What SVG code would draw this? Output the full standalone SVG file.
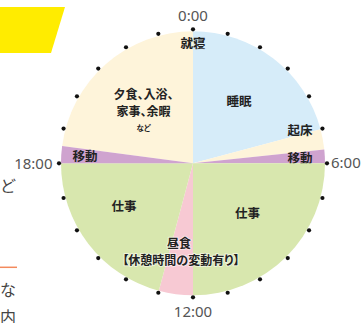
<svg xmlns="http://www.w3.org/2000/svg" width="362" height="323" viewBox="0 0 362 323">
  <style>
    .lbl { font-family: "Noto Sans CJK JP", "Noto Sans", sans-serif; font-weight: 700; fill: #222; text-anchor: middle; font-feature-settings: "palt"; }
    .time { font-family: "Noto Sans", "Liberation Sans", sans-serif; font-size: 15px; fill: #555; }
    .side { font-family: "Noto Sans CJK JP", sans-serif; font-size: 16px; fill: #444; }
    .halo { paint-order: stroke; stroke: #ffffff; stroke-opacity: 0.55; stroke-width: 2; stroke-linejoin: round; }
    .sleep { fill: #d6ecf9; }
    .cream { fill: #fef4da; }
    .move { fill: #cfa3cf; }
    .work { fill: #d8e7ae; }
    .lunch { fill: #f7c9d3; }
    .dot { fill: #111; }
  </style>
  <rect width="362" height="323" fill="#ffffff"/>
  <polygon points="0,7 65,7 51,53 0,53" fill="#ffec00"/>
  <line x1="0" y1="267.3" x2="17" y2="267.3" stroke="#f38a5d" stroke-width="1.5"/>
  <text class="side" x="0" y="192">ど</text>
  <text class="side" x="0" y="296">な</text>
  <text class="side" x="0" y="323">内</text>

  <g id="evening">
    <path class="cream" d="M193,163.3 L62.13,146.07 A132,132 0 0 1 193,31.3 Z"/>
    <text class="lbl" x="143.5" y="99" font-size="12">夕食、入浴、</text>
    <text class="lbl" x="143.5" y="116" font-size="12">家事、余暇</text>
    <text class="lbl" x="143.5" y="131" font-size="7.5">など</text>
  </g>
  <g id="sleep">
    <path class="sleep" d="M193,163.3 L193,31.3 A132,132 0 0 1 320.5,129.14 Z"/>
    <text class="lbl" x="193" y="47.5" font-size="12.5">就寝</text>
    <text class="lbl" x="239" y="106" font-size="12.5">睡眠</text>
  </g>
  <g id="wakeup">
    <path class="cream" d="M193,163.3 L320.5,129.14 A132,132 0 0 1 324.28,149.5 Z"/>
    <text class="lbl" x="300" y="134.5" font-size="12.5">起床</text>
  </g>
  <g id="commute-morning">
    <path class="move" d="M193,163.3 L324.28,149.5 A132,132 0 0 1 325,163.3 Z"/>
    <text class="lbl" x="300" y="162.5" font-size="12.5">移動</text>
  </g>
  <g id="work-morning">
    <path class="work" d="M193,163.3 L325,163.3 A132,132 0 0 1 193,295.3 Z"/>
    <text class="lbl" x="247.5" y="218" font-size="12.5">仕事</text>
  </g>
  <g id="lunch">
    <path class="lunch" d="M193,163.3 L193,295.3 A132,132 0 0 1 158.84,290.8 Z"/>
  </g>
  <g id="work-afternoon">
    <path class="work" d="M193,163.3 L158.84,290.8 A132,132 0 0 1 61,163.3 Z"/>
    <text class="lbl" x="124" y="210.5" font-size="12.5">仕事</text>
  </g>
  <g id="commute-evening">
    <path class="move" d="M193,163.3 L61,163.3 A132,132 0 0 1 62.13,146.07 Z"/>
    <text class="lbl" x="85" y="161" font-size="12.5">移動</text>
  </g>
  <g id="lunch-label">
    <text class="lbl halo" x="179" y="248" font-size="12">昼食</text>
    <text class="lbl halo" x="181" y="265" font-size="12">【休憩時間の変動有り】</text>
  </g>

  <g id="connectors">
    <circle class="dot" cx="193" cy="29.3" r="2.1"/>
    <circle class="dot" cx="227.68" cy="33.87" r="2.1"/>
    <circle class="dot" cx="260" cy="47.25" r="2.1"/>
    <circle class="dot" cx="287.75" cy="68.55" r="2.1"/>
    <circle class="dot" cx="309.05" cy="96.3" r="2.1"/>
    <circle class="dot" cx="322.43" cy="128.62" r="2.1"/>
    <circle class="dot" cx="327" cy="163.3" r="2.1"/>
    <circle class="dot" cx="322.43" cy="197.98" r="2.1"/>
    <circle class="dot" cx="309.05" cy="230.3" r="2.1"/>
    <circle class="dot" cx="287.75" cy="258.05" r="2.1"/>
    <circle class="dot" cx="260" cy="279.35" r="2.1"/>
    <circle class="dot" cx="227.68" cy="292.73" r="2.1"/>
    <circle class="dot" cx="193" cy="297.3" r="2.1"/>
    <circle class="dot" cx="158.32" cy="292.73" r="2.1"/>
    <circle class="dot" cx="126" cy="279.35" r="2.1"/>
    <circle class="dot" cx="98.25" cy="258.05" r="2.1"/>
    <circle class="dot" cx="76.95" cy="230.3" r="2.1"/>
    <circle class="dot" cx="63.57" cy="197.98" r="2.1"/>
    <circle class="dot" cx="59" cy="163.3" r="2.1"/>
    <circle class="dot" cx="63.57" cy="128.62" r="2.1"/>
    <circle class="dot" cx="76.95" cy="96.3" r="2.1"/>
    <circle class="dot" cx="98.25" cy="68.55" r="2.1"/>
    <circle class="dot" cx="126" cy="47.25" r="2.1"/>
    <circle class="dot" cx="158.32" cy="33.87" r="2.1"/>
  </g>

  <g id="time-labels">
    <text class="time" x="193" y="20.5" text-anchor="middle">0:00</text>
    <text class="time" x="331" y="168">6:00</text>
    <text class="time" x="193" y="317" text-anchor="middle">12:00</text>
    <text class="time" x="52.5" y="168.5" text-anchor="end">18:00</text>
  </g>
</svg>
